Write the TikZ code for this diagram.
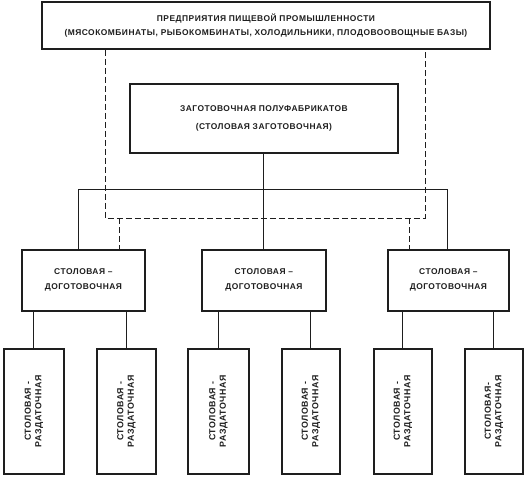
\documentclass[tikz,border=0pt]{standalone}
\usepackage{fontspec}
\usepackage{graphicx}
\newfontfamily\diagfont[LetterSpace=6,BoldFont={Liberation Sans Bold}]{Liberation Sans}
\definecolor{ink}{HTML}{1E1E1E}
\tikzset{
  box/.style={draw=ink, line width=1.8pt, fill=white, inner sep=1pt, align=center,
    anchor=north west, text=ink},
  bigtxt/.style={font=\diagfont\bfseries\fontsize{8.4}{14}\selectfont},
  midtxt/.style={font=\diagfont\bfseries\fontsize{8.4}{18}\selectfont},
  rowtxt/.style={font=\diagfont\bfseries\fontsize{8.4}{15}\selectfont},
  link/.style={draw=ink, line width=1pt},
  dlink/.style={draw=ink, line width=1pt, dash pattern=on 6pt off 3pt},
}
\newcommand{\vtext}[2]{\rotatebox{90}{\diagfont\bfseries\fontsize{8.8}{10.5}\selectfont
  \begin{tabular}{@{}c@{}}#1\\#2\end{tabular}}}
\begin{document}
\begin{tikzpicture}[x=1pt,y=-1pt]
\useasboundingbox[fill=white] (0,0) rectangle (524,476);

% boxes
\node[box, bigtxt, minimum width=448pt, minimum height=47pt] (top) at (41,1)
  {ПРЕДПРИЯТИЯ ПИЩЕВОЙ ПРОМЫШЛЕННОСТИ\\(МЯСОКОМБИНАТЫ, РЫБОКОМБИНАТЫ, ХОЛОДИЛЬНИКИ, ПЛОДОВООВОЩНЫЕ БАЗЫ)};
\node[box, midtxt, minimum width=268pt, minimum height=69pt] (mid) at (129,83)
  {ЗАГОТОВОЧНАЯ ПОЛУФАБРИКАТОВ\\(СТОЛОВАЯ ЗАГОТОВОЧНАЯ)};

\node[box, rowtxt, minimum width=123pt, minimum height=61pt] (A) at (21,249)
  {СТОЛОВАЯ –\\ДОГОТОВОЧНАЯ};
\node[box, rowtxt, minimum width=124pt, minimum height=61pt] (B) at (201,249)
  {СТОЛОВАЯ –\\ДОГОТОВОЧНАЯ};
\node[box, rowtxt, minimum width=121pt, minimum height=61pt] (C) at (387,249)
  {СТОЛОВАЯ –\\ДОГОТОВОЧНАЯ};

\node[box, minimum width=60pt, minimum height=125pt] (b1) at (3,348)
  {\vtext{СТОЛОВАЯ -}{РАЗДАТОЧНАЯ}};
\node[box, minimum width=59pt, minimum height=125pt] (b2) at (96,348)
  {\vtext{СТОЛОВАЯ -}{РАЗДАТОЧНАЯ}};
\node[box, minimum width=61pt, minimum height=125pt] (b3) at (187,348)
  {\vtext{СТОЛОВАЯ -}{РАЗДАТОЧНАЯ}};
\node[box, minimum width=58pt, minimum height=125pt] (b4) at (281,348)
  {\vtext{СТОЛОВАЯ -}{РАЗДАТОЧНАЯ}};
\node[box, minimum width=58pt, minimum height=125pt] (b5) at (373,348)
  {\vtext{СТОЛОВАЯ -}{РАЗДАТОЧНАЯ}};
\node[box, minimum width=58pt, minimum height=125pt] (b6) at (464,348)
  {\vtext{СТОЛОВАЯ-}{РАЗДАТОЧНАЯ}};

% junction coordinates
\coordinate (busL) at (78,189);
\coordinate (busR) at (447,189);
\coordinate (dl) at (105,218);
\coordinate (dr) at (425,218);
\coordinate (dA) at (119,218);
\coordinate (dC) at (409,218);

% solid tree
\draw[link] (mid.south) -- (B.north);
\draw[link] (A.north -| busL) -- (busL) -- (busR) -- (C.north -| busR);

% dashed supply lines
\draw[dlink] (top.south -| dl) -- (dl) -- (dr) -- (top.south -| dr);
\draw[dlink] (dA) -- (dA |- A.north);
\draw[dlink] (dC) -- (dC |- C.north);

% lower links
\draw[link] (b1.north) -- (b1.north |- A.south);
\draw[link] (b2.north) -- (b2.north |- A.south);
\draw[link] (b3.north) -- (b3.north |- B.south);
\draw[link] (b4.north) -- (b4.north |- B.south);
\draw[link] (b5.north) -- (b5.north |- C.south);
\draw[link] (b6.north) -- (b6.north |- C.south);
\end{tikzpicture}
\end{document}
